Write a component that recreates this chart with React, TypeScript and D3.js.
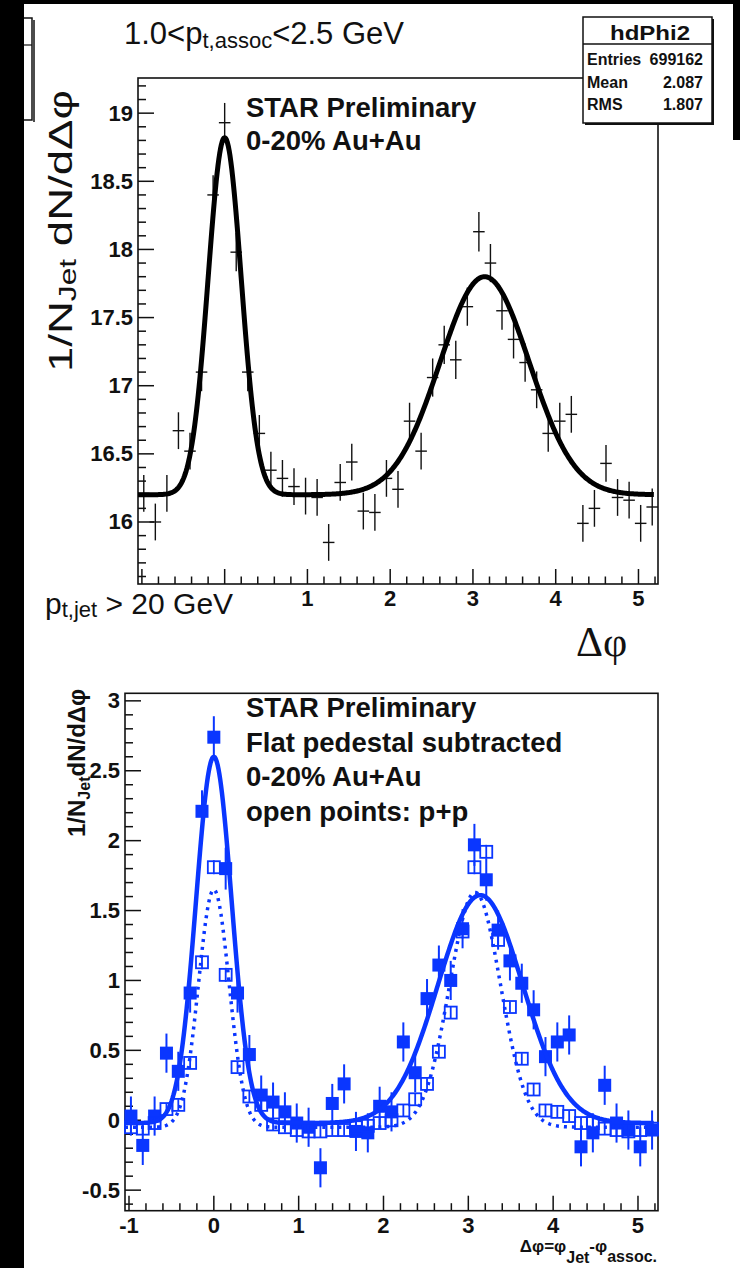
import React from 'react';
import * as d3 from 'd3';

// ---------------- data ----------------
const NBINS = 45;
const X_MIN = -Math.PI / 3;
const X_MAX = (5 * Math.PI) / 3;

// top panel: raw correlation (Au+Au 0-20%)
const topValues = [
  16.21, 16.0, 16.21, 16.67, 16.52, 17.1, 18.4, 18.93, 17.98, 17.1,
  16.65, 16.38, 16.32, 16.26, 16.19, 16.18, 15.85, 16.29, 16.44, 16.08,
  16.07, 16.32, 16.24, 16.74, 16.52, 17.06, 17.3, 17.19, 17.58, 18.13,
  17.9, 17.55, 17.34, 17.17, 16.97, 16.65, 16.74, 16.79, 15.99, 16.1,
  16.43, 16.18, 16.16, 15.99, 16.11,
];
const topErrors = [
  0.135, 0.135, 0.135, 0.135, 0.135, 0.14, 0.145, 0.145, 0.14, 0.14,
  0.135, 0.135, 0.135, 0.135, 0.135, 0.135, 0.135, 0.135, 0.135, 0.135,
  0.135, 0.135, 0.135, 0.135, 0.135, 0.14, 0.14, 0.14, 0.14, 0.145,
  0.14, 0.14, 0.14, 0.14, 0.135, 0.135, 0.135, 0.135, 0.135, 0.135,
  0.135, 0.135, 0.135, 0.135, 0.135,
];
// fit: pedestal, near amp, near sigma, away amp, away centre, away sigma
const topFit = [16.2, 2.62, 0.2, 1.6, Math.PI, 0.54];

// bottom panel: pedestal subtracted
const aaValues = [
  0.03, -0.18, 0.03, 0.48, 0.35, 0.91, 2.21, 2.74, 1.8, 0.91,
  0.47, 0.18, 0.13, 0.06, -0.02, -0.05, -0.34, 0.12, 0.26, -0.08,
  -0.09, 0.1, 0.06, 0.56, 0.34, 0.87, 1.11, 1.0, 1.37, 1.97,
  1.72, 1.36, 1.14, 0.98, 0.79, 0.455, 0.56, 0.61, -0.19, -0.09,
  0.25, -0.02, -0.07, -0.19, -0.07,
];
const aaErrors = [
  0.14, 0.14, 0.14, 0.14, 0.14, 0.14, 0.15, 0.15, 0.15, 0.14,
  0.14, 0.14, 0.14, 0.14, 0.14, 0.14, 0.14, 0.14, 0.14, 0.14,
  0.14, 0.14, 0.14, 0.14, 0.14, 0.14, 0.14, 0.14, 0.14, 0.15,
  0.15, 0.14, 0.14, 0.14, 0.14, 0.14, 0.14, 0.14, 0.14, 0.14,
  0.14, 0.14, 0.14, 0.14, 0.14,
];
const ppValues = [
  -0.05, -0.06, -0.02, 0.08, 0.11, 0.41, 1.13, 1.81, 1.04, 0.38,
  0.17, 0.11, -0.03, -0.05, -0.07, -0.08, -0.08, -0.07, -0.07, -0.05,
  -0.04, -0.02, 0.0, 0.07, 0.15, 0.26, 0.49, 0.77, 1.35, 1.81,
  1.92, 1.29, 0.81, 0.44, 0.22, 0.07, 0.06, 0.03, -0.02, -0.02,
  -0.06, -0.07, -0.08, -0.07, -0.06,
];
const ppErrors = [
  0.04, 0.04, 0.04, 0.04, 0.04, 0.04, 0.05, 0.05, 0.05, 0.04,
  0.04, 0.04, 0.04, 0.04, 0.04, 0.04, 0.04, 0.04, 0.04, 0.04,
  0.04, 0.04, 0.04, 0.04, 0.04, 0.04, 0.04, 0.04, 0.05, 0.05,
  0.05, 0.05, 0.04, 0.04, 0.04, 0.04, 0.04, 0.04, 0.04, 0.04,
  0.04, 0.04, 0.04, 0.04, 0.04,
];
const aaFit = [-0.02, 2.62, 0.21, 1.63, Math.PI, 0.5];
const ppFit = [-0.05, 1.7, 0.18, 1.68, 3.08, 0.3];

const topYTicks = [16, 16.5, 17, 17.5, 18, 18.5, 19];
const topYLabels = ['16', '16.5', '17', '17.5', '18', '18.5', '19'];
const topXTicks = [1, 2, 3, 4, 5];
const topXLabels = ['1', '2', '3', '4', '5'];
const botXTicks = [-1, 0, 1, 2, 3, 4, 5];
const botXLabels = ['-1', '0', '1', '2', '3', '4', '5'];
const botYTicks = [-0.5, 0, 0.5, 1, 1.5, 2, 2.5, 3];
const botYLabels = ['-0.5', '0', '0.5', '1', '1.5', '2', '2.5', '3'];

const statsTitle = 'hdPhi2';
const statsNames = ['Entries', 'Mean', 'RMS'];
const statsValues = ['699162', '2.087', '1.807'];

const topLines = ['STAR Preliminary', '0-20% Au+Au'];
const botLines = ['STAR Preliminary', 'Flat pedestal subtracted', '0-20% Au+Au', 'open points: p+p'];

// ---------------- helpers ----------------
const SANS = 'Liberation Sans, Arial, Helvetica, sans-serif';
const SERIF = 'Liberation Serif, Times New Roman, serif';
const BLUE = '#0a36ff';

const binWidth = (X_MAX - X_MIN) / NBINS;
const binCenters = d3.range(NBINS).map((i) => X_MIN + (i + 0.5) * binWidth);

const fitFn = (p: number[]) => (x: number) =>
  p[0] + p[1] * Math.exp((-x * x) / (2 * p[2] * p[2])) +
  p[3] * Math.exp((-(x - p[4]) * (x - p[4])) / (2 * p[5] * p[5]));

const samples = d3.range(0, 601).map((i) => X_MIN + (i / 600) * (X_MAX - X_MIN - 0.05));

function Axes({ x, y, xTicks, yTicks, yMinor, xMinorStep, yLabels, xLabels }: any) {
  const [x0, x1] = x.range();
  const [y0, y1] = y.range(); // y0 bottom, y1 top
  const xd = x.domain();
  const yd = y.domain();
  const xMinor = d3.range(Math.ceil(xd[0] / xMinorStep - 1e-6), Math.floor(xd[1] / xMinorStep + 1e-6) + 1).map((k) => k * xMinorStep);
  const yMin = d3.range(Math.ceil(yd[0] / yMinor - 1e-6), Math.floor(yd[1] / yMinor + 1e-6) + 1).map((k) => k * yMinor);
  return (
    <g>
      <rect x={x0} y={y1} width={x1 - x0} height={y0 - y1} fill="none" stroke="#111" strokeWidth={1.6} />
      {xMinor.map((v, i) => {
        const major = Math.abs(v - Math.round(v)) < 1e-6;
        return <line key={'xm' + i} x1={x(v)} x2={x(v)} y1={y0} y2={y0 - (major ? 15 : 7.5)} stroke="#111" strokeWidth={1.5} />;
      })}
      {yMin.map((v, i) => {
        const major = Math.abs(v * 2 - Math.round(v * 2)) < 1e-6;
        return <line key={'ym' + i} x1={x0} x2={x0 + (major ? 16 : 8)} y1={y(v)} y2={y(v)} stroke="#111" strokeWidth={1.5} />;
      })}
      {yTicks.map((v: number, i: number) => (
        <text key={'yl' + i} x={x0 - 5} y={y(v) + 7.5} textAnchor="end" fontFamily={SANS} fontWeight="bold" fontSize={22} fill="#111">
          {yLabels[i]}
        </text>
      ))}
      {xTicks.map((v: number, i: number) => (
        <text key={'xl' + i} x={x(v)} y={y0 + 22} textAnchor="middle" fontFamily={SANS} fontWeight="bold" fontSize={22} fill="#111">
          {xLabels[i]}
        </text>
      ))}
    </g>
  );
}

export default function App() {
  // top panel scales
  const xt = d3.scaleLinear().domain([X_MIN, X_MAX]).range([138, 658]);
  const yt = d3.scaleLinear().domain([15.545, 19.258]).range([584, 78]);
  // bottom panel scales
  const xb = d3.scaleLinear().domain([X_MIN, X_MAX]).range([125, 658]);
  const yb = d3.scaleLinear().domain([-0.647, 3.054]).range([1210.7, 693.3]);

  const topLine = d3.line<number>().x((d) => xt(d)).y((d) => yt(fitFn(topFit)(d)));
  const aaLine = d3.line<number>().x((d) => xb(d)).y((d) => yb(fitFn(aaFit)(d)));
  const ppLine = d3.line<number>().x((d) => xb(d)).y((d) => yb(fitFn(ppFit)(d)));

  const hw = binWidth / 2;
  const ms = 13;

  return (
    <svg width={740} height={1268} viewBox="0 0 740 1268" style={{ position: 'absolute', left: 0, top: 0, display: 'block' }}>
      <rect x={0} y={0} width={740} height={1268} fill="#fff" />
      {/* black borders */}
      <rect x={0} y={0} width={740} height={4} fill="#000" />
      <rect x={0} y={0} width={24} height={1268} fill="#000" />
      <rect x={733} y={0} width={7} height={140} fill="#000" />

      {/* clipped box at left */}
      <rect x={-20} y={18} width={52} height={102} fill="#fff" stroke="#111" strokeWidth={1.5} />
      <line x1={34} x2={34} y1={20} y2={122} stroke="#111" strokeWidth={1.5} />
      <line x1={24} x2={32} y1={45} y2={45} stroke="#111" strokeWidth={1.2} />
      <rect x={0} y={0} width={24} height={1268} fill="#000" />

      {/* header */}
      <text x={124} y={44} fontFamily={SANS} fontSize={31} fill="#111">
        1.0&lt;p<tspan fontSize={22} dy={4}>t,assoc</tspan><tspan dy={-4}>&lt;2.5 GeV</tspan>
      </text>

      {/* ---------- top panel ---------- */}
      <Axes x={xt} y={yt} xTicks={topXTicks} xLabels={topXLabels} yTicks={topYTicks} yLabels={topYLabels} yMinor={0.1} xMinorStep={0.2} />
      <g stroke="#111" strokeWidth={1.4}>
        {binCenters.map((c, i) => (
          <g key={'tp' + i}>
            <line x1={xt(c - hw)} x2={xt(c + hw)} y1={yt(topValues[i])} y2={yt(topValues[i])} />
            <line x1={xt(c)} x2={xt(c)} y1={yt(topValues[i] - topErrors[i])} y2={yt(topValues[i] + topErrors[i])} />
          </g>
        ))}
      </g>
      <path d={topLine(samples) || ''} fill="none" stroke="#000" strokeWidth={5} strokeLinejoin="round" />
      {topLines.map((t, i) => (
        <text key={'tl' + i} x={246} y={117 + i * 33} fontFamily={SANS} fontWeight="bold" fontSize={27.5} fill="#111">{t}</text>
      ))}

      {/* y title top */}
      <text transform="translate(72,372) rotate(-90)" fontFamily={SANS} fontSize={33} fill="#111" textLength={282} lengthAdjust="spacingAndGlyphs">
        1/N<tspan fontSize={23} dy={4}>Jet</tspan><tspan dy={-4}> dN/dΔφ</tspan>
      </text>

      {/* stats box */}
      <rect x={585} y={19} width={129} height={106} fill="#111" />
      <rect x={583} y={17} width={129} height={106} fill="#fff" stroke="#111" strokeWidth={1.5} />
      <line x1={583} x2={712} y1={44} y2={44} stroke="#111" strokeWidth={1.5} />
      <text x={650} y={40} textAnchor="middle" fontFamily={SANS} fontWeight="bold" fontSize={20} textLength={80} lengthAdjust="spacingAndGlyphs" fill="#111">{statsTitle}</text>
      {statsNames.map((n, i) => (
        <g key={'st' + i}>
          <text x={587} y={65 + i * 22.5} fontFamily={SANS} fontWeight="bold" fontSize={16} fill="#111">{n}</text>
          <text x={703} y={65 + i * 22.5} textAnchor="end" fontFamily={SANS} fontWeight="bold" fontSize={16} fill="#111">{statsValues[i]}</text>
        </g>
      ))}

      {/* p_t,jet label */}
      <rect x={26} y={590} width={100} height={32} fill="#fff" />
      <text x={45} y={614} fontFamily={SANS} fontSize={30} fill="#111">
        p<tspan fontSize={22} dy={3}>t,jet</tspan><tspan dy={-3}> &gt; 20 GeV</tspan>
      </text>
      <text x={576} y={656} fontFamily={SERIF} fontSize={42} fill="#111">Δφ</text>

      {/* ---------- bottom panel ---------- */}
      <Axes x={xb} y={yb} xTicks={botXTicks} xLabels={botXLabels} yTicks={botYTicks} yLabels={botYLabels} yMinor={0.1} xMinorStep={0.2} />
      {/* Au+Au filled */}
      <g>
        {binCenters.map((c, i) => (
          <g key={'aa' + i}>
            <line x1={xb(c)} x2={xb(c)} y1={yb(aaValues[i] - aaErrors[i])} y2={yb(aaValues[i] + aaErrors[i])} stroke={BLUE} strokeWidth={2} />
            <rect x={xb(c) - ms / 2} y={yb(aaValues[i]) - ms / 2} width={ms} height={ms} fill={BLUE} />
          </g>
        ))}
      </g>
      <path d={aaLine(samples) || ''} fill="none" stroke={BLUE} strokeWidth={4.5} strokeLinejoin="round" />
      {/* p+p open */}
      <g>
        {binCenters.map((c, i) => (
          <g key={'pp' + i}>
            <line x1={xb(c)} x2={xb(c)} y1={yb(ppValues[i] - ppErrors[i])} y2={yb(ppValues[i] + ppErrors[i])} stroke={BLUE} strokeWidth={1.8} />
            <rect x={xb(c) - ms / 2 + 0.5} y={yb(ppValues[i]) - ms / 2 + 0.5} width={ms - 1} height={ms - 1} fill="none" stroke={BLUE} strokeWidth={1.8} />
          </g>
        ))}
      </g>
      <path d={ppLine(samples) || ''} fill="none" stroke={BLUE} strokeWidth={3.5} strokeDasharray="3 5" />

      {botLines.map((t, i) => (
        <text key={'bl' + i} x={246} y={717 + i * 34.7} fontFamily={SANS} fontWeight="bold" fontSize={27.5} fill="#111">{t}</text>
      ))}

      {/* y title bottom */}
      <text transform="translate(85,837) rotate(-90)" fontFamily={SANS} fontWeight="bold" fontSize={24} fill="#111">
        1/N<tspan fontSize={16} dy={5}>Jet</tspan><tspan dy={-5}>dN/dΔφ</tspan>
      </text>

      {/* x title bottom */}
      <text x={657} y={1252} textAnchor="end" fontFamily={SANS} fontWeight="bold" fontSize={17} fill="#111">
        Δφ=φ<tspan fontSize={16} dy={11}>Jet</tspan><tspan dy={-11}>-φ</tspan><tspan fontSize={16} dy={10}>assoc.</tspan>
      </text>
    </svg>
  );
}
